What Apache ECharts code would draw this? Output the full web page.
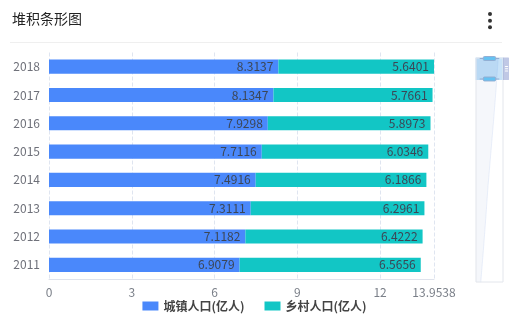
<!DOCTYPE html>
<html><head><meta charset="utf-8">
<script src="https://cdn.jsdelivr.net/npm/echarts@6/dist/echarts.min.js"></script>
<style>html,body{margin:0;padding:0;background:#fff}#c{width:509px;height:323px}</style>
</head><body><div id="c"></div>
<script>
const titleText = '堆积条形图';
const years = ['2011', '2012', '2013', '2014', '2015', '2016', '2017', '2018'];
const urban = [6.9079, 7.1182, 7.3111, 7.4916, 7.7116, 7.9298, 8.1347, 8.3137];
const rural = [6.5656, 6.4222, 6.2961, 6.1866, 6.0346, 5.8973, 5.7661, 5.6401];
const seriesNames = ['城镇人口(亿人)', '乡村人口(亿人)'];
const xInterval = 3;
const xMax = Math.max(...urban.map((u, i) => +(u + rural[i]).toFixed(4)));

const FONT = "'Noto Sans CJK SC', 'Noto Sans', sans-serif";
const chart = echarts.init(document.getElementById('c'), null, {renderer: 'canvas'});
chart.setOption({
  animation: false,
  textStyle: {fontFamily: FONT},
  color: ['#4a88fb', '#12c6c5'],
  title: {
    text: titleText, left: 12, top: 12, padding: 0,
    textStyle: {fontSize: 14, fontWeight: 'normal', color: '#222', fontFamily: FONT}
  },
  graphic: [
    {type: 'line', shape: {x1: 10, y1: 42.5, x2: 502, y2: 42.5}, style: {stroke: '#efefef', lineWidth: 1}, silent: true},
    {type: 'circle', shape: {cx: 490, cy: 14, r: 2}, style: {fill: '#333'}},
    {type: 'circle', shape: {cx: 490, cy: 20.7, r: 2}, style: {fill: '#333'}},
    {type: 'circle', shape: {cx: 490, cy: 27.3, r: 2}, style: {fill: '#333'}}
  ],
  legend: {
    data: seriesNames, bottom: 6, left: 'center', icon: 'rect',
    itemWidth: 16, itemHeight: 9, itemGap: 20,
    textStyle: {fontSize: 12, fontWeight: 'bold', color: '#444', fontFamily: FONT}
  },
  grid: {left: 49, right: 75, top: 52.5, bottom: 44, containLabel: false},
  xAxis: {
    type: 'value', min: 0, max: xMax, interval: xInterval,
    axisLine: {show: true, lineStyle: {color: '#dfe3ec'}},
    axisTick: {show: false},
    axisLabel: {color: '#7a7f88', fontSize: 12, margin: 7},
    splitLine: {show: true, lineStyle: {type: 'dashed', color: '#dfe5f0'}}
  },
  yAxis: [{
    type: 'category', data: years,
    axisLine: {show: false}, axisTick: {show: false},
    axisLabel: {color: '#6e7079', fontSize: 12, margin: 9}
  }, {
    type: 'category', data: years, show: false
  }],
  dataZoom: [{
    type: 'slider', orient: 'vertical', yAxisIndex: 1, start: 90, end: 100,
    right: 6, width: 28, top: 55, bottom: 43,
    showDetail: false, filterMode: 'filter',
    borderColor: '#e3e6ec', backgroundColor: 'rgba(0,0,0,0)',
    fillerColor: 'rgba(130,190,240,0.45)',
    handleSize: '70%',
    handleStyle: {color: '#66c2f2', borderColor: '#93aed3'},
    dataBackground: {lineStyle: {color: '#d6e0f4'}, areaStyle: {color: '#f5f7fb', opacity: 1}},
    selectedDataBackground: {lineStyle: {color: '#c6d6f2'}, areaStyle: {color: '#e8eef8', opacity: 1}},
    moveHandleSize: 7
  }],
  series: [{
    name: seriesNames[0], type: 'bar', stack: 'total', barWidth: '50%',
    xAxisIndex: 0, yAxisIndex: 0, data: urban,
    label: {show: true, position: 'insideRight', color: '#3c4655', fontSize: 12, fontFamily: FONT}
  }, {
    name: seriesNames[1], type: 'bar', stack: 'total', barWidth: '50%',
    xAxisIndex: 0, yAxisIndex: 0, data: rural,
    label: {show: true, position: 'insideRight', color: '#3c4655', fontSize: 12, fontFamily: FONT}
  }, {
    name: '_shadow', type: 'line', xAxisIndex: 0, yAxisIndex: 1, data: urban,
    showSymbol: false, symbol: 'none', lineStyle: {opacity: 0}, silent: true,
    tooltip: {show: false}
  }]
});
</script></body></html>
